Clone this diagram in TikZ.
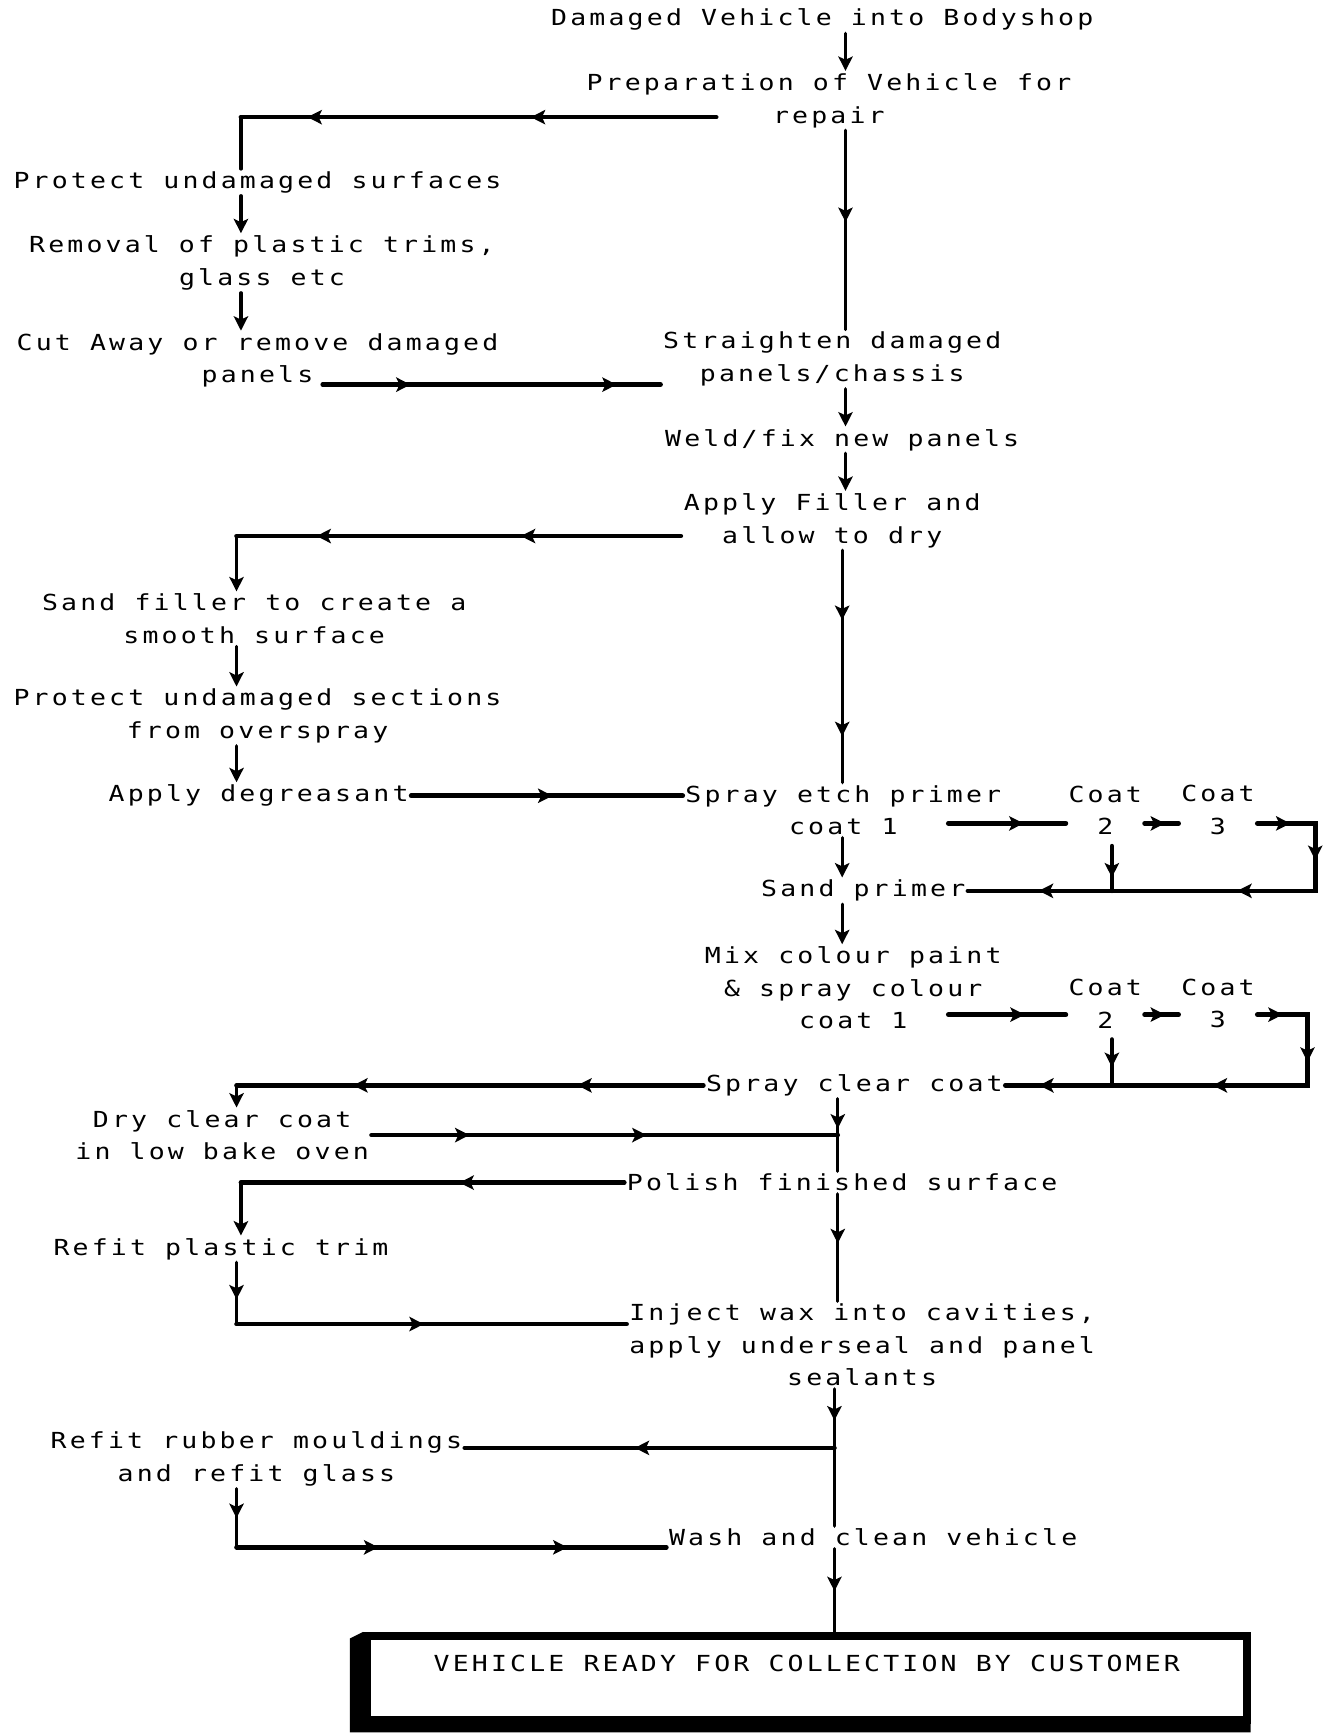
\documentclass[tikz,border=0pt]{standalone}
\usepackage{fontspec}
\newfontfamily\dotfont{DejaVu Sans Mono}[FakeStretch=1.2,LetterSpace=14.3]
\usetikzlibrary{positioning, arrows.meta, decorations.markings}

\begin{document}
\begin{tikzpicture}[
        x=0.5pt, y=-0.5pt,
        >={Stealth[length=6.5pt, width=6.5pt, inset=1.5pt]},
        every node/.style={font=\dotfont\fontsize{10pt}{14.75pt}\selectfont},
        stage/.style={align=center, inner sep=1pt},
        flow/.style={line width=1.5pt, line cap=round},
        feed/.style={line width=2.1pt, line cap=round},
        /pgf/decoration/tipat/.style={mark=at position #1 with {\arrow{>}}},
        midtips/.style={postaction=decorate, decoration={markings, tipat/.list={#1}}},
        endbox/.style={
          draw, line width=3.5pt, fill=white,
          minimum width=398pt, inner ysep=0pt,
          text height=16.3pt, text depth=21.7pt,
        },
      ]
      \useasboundingbox (0,0) rectangle (1203,1568);

      \node[stage] (dmg) at (744,18) {Damaged Vehicle into Bodyshop};
      \node[stage] (prep) at (750,91) {Preparation of Vehicle for\\repair};
      \node[stage] (prot) at (233,165) {Protect undamaged surfaces};
      \node[stage] (remv) at (237,238) {Removal of plastic trims,\\glass etc};
      \node[stage] (cut) at (233,326) {Cut Away or remove damaged\\panels};
      \node[stage] (strt) at (753,325) {Straighten damaged\\panels/chassis};
      \node[stage] (weld) at (762,398) {Weld/fix new panels};
      \node[stage] (fill) at (753,471) {Apply Filler and\\allow to dry};
      \node[stage] (sand) at (230,560) {Sand filler to create a\\smooth surface};
      \node[stage] (mask) at (233,648) {Protect undamaged sections\\from overspray};
      \node[stage] (degr) at (234,720) {Apply degreasant};
      \node[stage] (etch) at (763,733) {Spray etch primer\\coat 1};
      \node[stage] (pc2) at (1000,733) {Coat\\2};
      \node[stage] (pc3) at (1102,733) {Coat\\3};
      \node[stage] (sprm) at (781,806) {Sand primer};
      \node[stage] (mix) at (772,894) {Mix colour paint\\\& spray colour\\coat 1};
      \node[stage] (cc2) at (1000,908) {Coat\\2};
      \node[stage] (cc3) at (1102,908) {Coat\\3};
      \node[stage] (clear) at (773,982) {Spray clear coat};
      \node[stage] (dry) at (201,1027) {Dry clear coat\\in low bake oven};
      \node[stage] (pol) at (762,1070) {Polish finished surface};
      \node[stage] (trim) at (200,1130) {Refit plastic trim};
      \node[stage] (wax) at (780,1217) {Inject wax into cavities,\\apply underseal and panel\\sealants};
      \node[stage] (rub) at (232,1320) {Refit rubber mouldings\\and refit glass};
      \node[stage] (wash) at (790,1391) {Wash and clean vehicle};
      \node[endbox] (ready) at (730,1518) {VEHICLE READY FOR COLLECTION BY CUSTOMER};
      \fill ([shift={(-6pt,-3pt)}]ready.north west) -- ([shift={(-6pt,-4pt)}]ready.south west)
        -- ([yshift=-4pt]ready.south east) -- (ready.south east)
        -- (ready.south west) -- (ready.north west) -- cycle;

      \coordinate (ra) at (765,0);
      \coordinate (rb) at (762,0);
      \coordinate (rc) at (758,0);
      \coordinate (rd) at (755,0);
      \coordinate (la) at (218,0);
      \coordinate (lb) at (214,0);

      \draw[flow, ->] (dmg.south -| ra) -- (prep.north -| ra);
      \draw[flow, midtips={0.46}] (prep.south -| ra) -- (strt.north -| ra);
      \draw[flow, ->] (strt.south -| ra) -- (weld.north -| ra);
      \draw[flow, ->] (weld.south -| ra) -- (fill.north -| ra);
      \draw[flow, midtips={0.3,0.8}] (fill.south -| rb) -- (etch.north -| rb);
      \draw[flow, ->] (etch.south -| rb) -- (sprm.north -| rb);
      \draw[flow, ->] (sprm.south -| rb) -- (mix.north -| rb);
      \draw[flow, midtips={0.41}] (clear.south -| rc) -- (pol.north -| rc);
      \draw[flow, midtips={0.46}] (pol.south -| rc) -- (wax.north -| rc);
      \draw[flow, midtips={0.23}] (wax.south -| rd) -- (wash.north -| rd);
      \draw[flow, midtips={0.51}] (wash.south -| rd) -- (ready.north -| rd);

      \coordinate (b1) at (648,106);
      \draw[feed, midtips={0.39,0.86}] (b1) -- (b1 -| la);
      \draw[flow] (b1 -| la) -- (prot.north -| la);
      \draw[flow, ->] (prot.south -| la) -- (remv.north -| la);
      \draw[flow, ->] (remv.south -| la) -- (cut.north -| la);
      \coordinate (b2) at (292,348);
      \draw[feed, midtips={0.26,0.87}] (b2) -- (b2 -| strt.west);

      \coordinate (b3) at (616,485);
      \draw[feed, midtips={0.36,0.82}] (b3) -- (b3 -| lb);
      \draw[flow, ->] (b3 -| lb) -- (sand.north -| lb);
      \draw[flow, ->] (sand.south -| lb) -- (mask.north -| lb);
      \draw[flow, ->] (mask.south -| lb) -- (degr.north -| lb);
      \draw[feed, midtips={0.52}] (degr.east) -- (degr.east -| etch.west);

      \coordinate (e1) at (858,745);
      \coordinate (e2) at (1190,745);
      \draw[feed, midtips={0.64}] (e1) -- (e1 -| pc2.west);
      \draw[feed, midtips={0.6}] (pc2.east |- e1) -- (pc3.west |- e1);
      \draw[feed, midtips={0.07,0.2,0.43,0.85}] (pc3.east |- e1) -- (e2)
        -- (e2 |- sprm.east) -- (sprm.east);
      \draw[feed, midtips={0.7}] ([shift={(3pt,-4pt)}]pc2.south) -- ([xshift=3pt]pc2.south |- sprm.east);

      \coordinate (m1) at (858,918);
      \coordinate (m2) at (1183,918);
      \draw[feed, midtips={0.65}] (m1) -- (m1 -| cc2.west);
      \draw[feed, midtips={0.6}] (cc2.east |- m1) -- (cc3.west |- m1);
      \draw[feed, midtips={0.06,0.23,0.51,0.92}] (cc3.east |- m1) -- (m2)
        -- (m2 |- clear.east) -- (clear.east);
      \draw[feed, midtips={0.6}] ([shift={(3pt,-4pt)}]cc2.south) -- ([xshift=3pt]cc2.south |- clear.east);

      \draw[feed, midtips={0.27,0.75}] (clear.west) -- (clear.west -| lb);
      \draw[flow, ->] (clear.west -| lb) -- (dry.north -| lb);
      \draw[feed, midtips={0.21,0.59}] (dry.east) -- (dry.east -| rc);

      \draw[feed, midtips={0.43}] (pol.west) -- (pol.west -| la);
      \draw[flow, ->] (pol.west -| la) -- (trim.north -| la);
      \coordinate (w1) at (214,1198);
      \draw[flow, midtips={0.6}] (trim.south -| w1) -- (w1);
      \draw[feed, midtips={0.48}] (w1) -- (w1 -| wax.west);

      \coordinate (w2) at (755,1310);
      \draw[feed, midtips={0.54}] (w2) -- (w2 -| rub.east);
      \coordinate (w3) at (214,1400);
      \draw[flow, midtips={0.5}] (rub.south -| w3) -- (w3);
      \draw[feed, midtips={0.33,0.77}] (w3) -- (w3 -| wash.west);
    \end{tikzpicture}
\end{document}
